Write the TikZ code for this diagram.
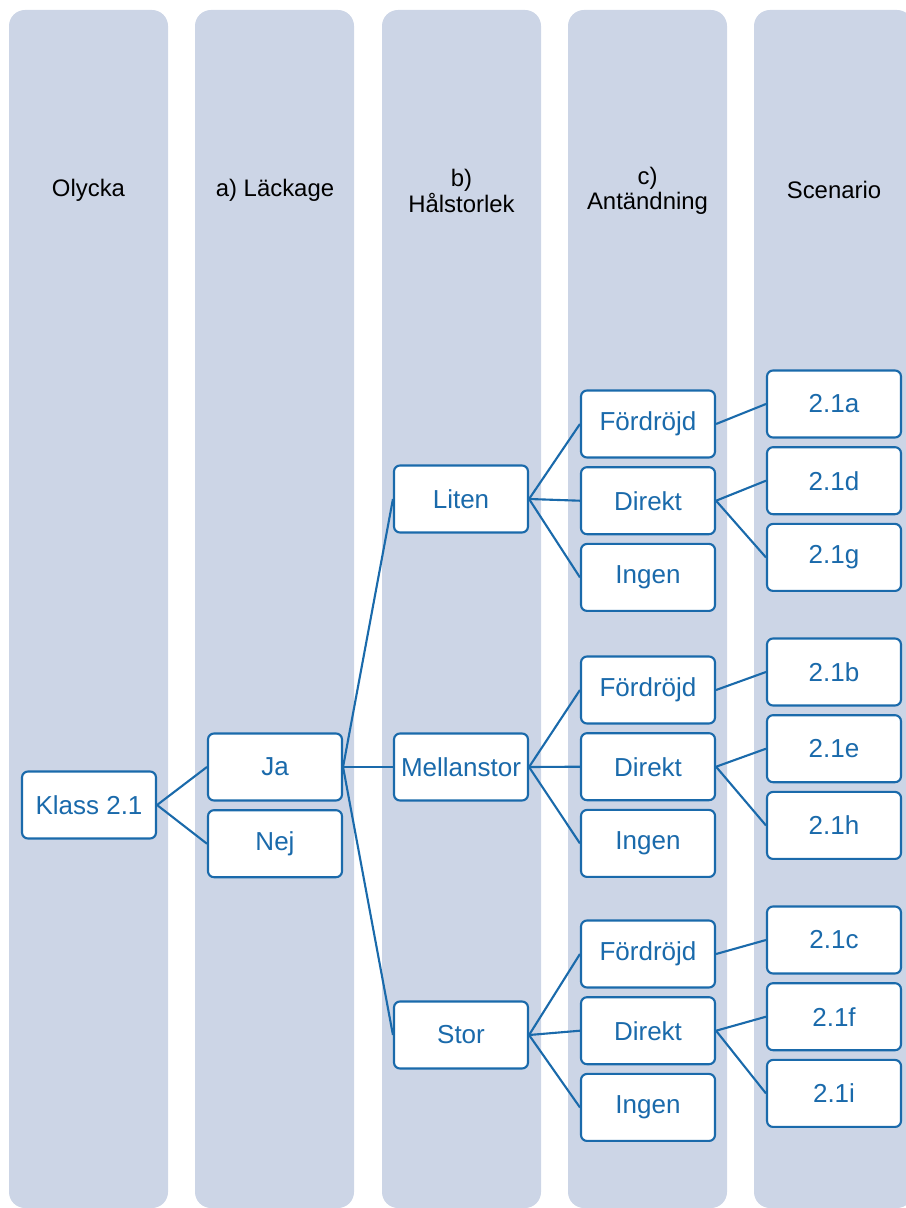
\documentclass[tikz,border=0pt]{standalone}
\usepackage{fontspec}
\setmainfont{Liberation Sans}
\usetikzlibrary{positioning}
\definecolor{treeblue}{HTML}{1A6AAB}
\definecolor{lanefill}{HTML}{CCD5E6}

\begin{document}
\begin{tikzpicture}[x=0.25mm,y=-0.25mm,
    lane/.style={fill=lanefill,rounded corners=4mm},
    head/.style={font=\fontsize{17}{18}\selectfont,align=center,text=black},
    box/.style={draw=treeblue,line width=1.5pt,fill=white,rounded corners=1.5mm,
                text=treeblue,font=\fontsize{18.5}{22}\selectfont,
                minimum width=33.5mm,minimum height=16.75mm,inner sep=0pt},
    link/.style={treeblue,line width=1.5pt},
  ]
    \useasboundingbox (0,0) rectangle (906,1208);
    % columns
    \foreach \x in {9,195,382,568,754}
      \fill[lane] (\x,10) rectangle ++(159,1198);

    \node[head] (hdolycka)   at (88.5,190)  {Olycka};
    \node[head] (hdlackage)  at (275,190)   {a) Läckage};
    \node[head] (hdhal)      at (461.5,191) {b)\\Hålstorlek};
    \node[head] (hdantand)   at (647.5,191) {c)\\Antändning};
    \node[head] (hdscenario) at (834,190)   {Scenario};

    % tree
    \node[box] (klass)  at (89,805)  {Klass 2.1};
    \node[box] (ja)     at (275,767) {Ja};
    \node[box,below=1.9mm of ja] (nej) {Nej};

    \node[box] (liten)  at (461,499)  {Liten};
    \node[box] (mellan) at (461,767)  {Mellanstor};
    \node[box] (stor)   at (461,1035) {Stor};

    \node[box] (fd1) at (648,424) {Fördröjd};
    \node[box,below=1.9mm of fd1] (dk1) {Direkt};
    \node[box,below=1.9mm of dk1] (ig1) {Ingen};
    \node[box] (fd2) at (648,690) {Fördröjd};
    \node[box,below=1.9mm of fd2] (dk2) {Direkt};
    \node[box,below=1.9mm of dk2] (ig2) {Ingen};
    \node[box] (fd3) at (648,954) {Fördröjd};
    \node[box,below=1.9mm of fd3] (dk3) {Direkt};
    \node[box,below=1.9mm of dk3] (ig3) {Ingen};

    \node[box] (sca) at (834,404) {2.1a};
    \node[box,below=1.9mm of sca] (scd) {2.1d};
    \node[box,below=1.9mm of scd] (scg) {2.1g};
    \node[box] (scb) at (834,672) {2.1b};
    \node[box,below=1.9mm of scb] (sce) {2.1e};
    \node[box,below=1.9mm of sce] (sch) {2.1h};
    \node[box] (scc) at (834,940) {2.1c};
    \node[box,below=1.9mm of scc] (scf) {2.1f};
    \node[box,below=1.9mm of scf] (sci) {2.1i};

    \draw[link] (klass.east) -- (ja.west);
    \draw[link] (klass.east) -- (nej.west);
    \draw[link] (ja.east) -- (liten.west);
    \draw[link] (ja.east) -- (mellan.west);
    \draw[link] (ja.east) -- (stor.west);

    \foreach \p/\g/\u/\v/\w in {liten/1/a/d/g,mellan/2/b/e/h,stor/3/c/f/i} {
      \draw[link] (\p.east) -- (fd\g.west);
      \draw[link] (\p.east) -- (dk\g.west);
      \draw[link] (\p.east) -- (ig\g.west);
      \draw[link] (fd\g.east) -- (sc\u.west);
      \draw[link] (dk\g.east) -- (sc\v.west);
      \draw[link] (dk\g.east) -- (sc\w.west);
    }
  \end{tikzpicture}
\end{document}
